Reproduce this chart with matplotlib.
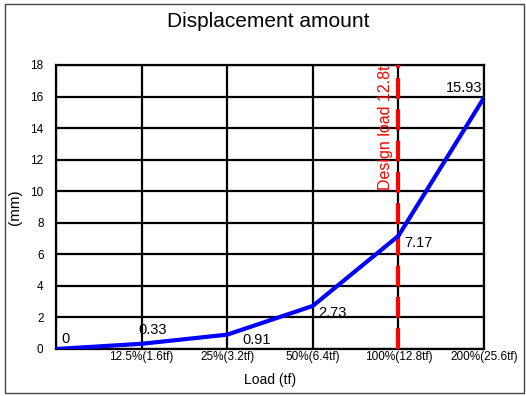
import matplotlib
matplotlib.use("Agg")
import matplotlib.pyplot as plt
from matplotlib.patches import Rectangle

plt.rcParams['font.family'] = ['Liberation Sans', 'DejaVu Sans']

# ------------------ Data
load_labels = ["", "12.5%(1.6tf)", "25%(3.2tf)", "50%(6.4tf)", "100%(12.8tf)", "200%(25.6tf)"]
displacement = [0, 0.33, 0.91, 2.73, 7.17, 15.93]
value_labels = ["0", "0.33", "0.91", "2.73", "7.17", "15.93"]
y_ticks = [0, 2, 4, 6, 8, 10, 12, 14, 16, 18]
design_index = 4
design_text = "Design load 12.8t"

# label offsets in points (dx, dy) and alignment
label_offsets = [(4, 7, "left"), (-2, 10, "left"), (11, -4, "left"), (4, -5, "left"),
                 (4, -5, "left"), (-1, 7, "right")]

fig = plt.figure(figsize=(5.26, 3.96), dpi=100)
ax = fig.add_axes([0.1065, 0.1187, 0.8137, 0.7172])

x = list(range(len(displacement)))

# ------------------ Grid
for yv in y_ticks:
    ax.axhline(yv, color="black", linewidth=1.6, zorder=1)
for xv in x:
    ax.axvline(xv, color="black", linewidth=1.6, zorder=1)

ax.plot(x, displacement, color="#0000ff", linewidth=3, zorder=4, solid_capstyle="round")

# design load line
ax.axvline(design_index, color="red", linewidth=3, linestyle=(0, (5, 2.5)), zorder=3)
ax.text(design_index - 0.15, 17.95, design_text, rotation=90, color="red",
        ha="center", va="top", fontsize=11.5, zorder=5)

for xi, yi, txt, (dx, dy, ha) in zip(x, displacement, value_labels, label_offsets):
    ax.annotate(txt, (xi, yi), xytext=(dx, dy), textcoords="offset points",
                ha=ha, va="center", fontsize=10.5, zorder=5)

ax.set_xlim(0, len(x) - 1)
ax.set_ylim(0, 18)
ax.set_xticks(x)
ax.set_xticklabels(load_labels, fontsize=8.5)
ax.set_yticks(y_ticks)
ax.tick_params(axis="y", labelsize=8.5, length=0, pad=9)
ax.tick_params(axis="x", length=0, pad=1.5)
for s in ax.spines.values():
    s.set_linewidth(1.6)

ax.set_xlabel("Load (tf)", fontsize=10, labelpad=7)
ax.set_ylabel("(mm)", fontsize=11, labelpad=6)
fig.text(0.51, 0.945, "Displacement amount", ha="center", va="center", fontsize=15)

fig.patches.append(Rectangle((5 / 526, 3 / 396), 519 / 526, 389 / 396, transform=fig.transFigure,
                             fill=False, edgecolor="#444444", linewidth=1))

fig.savefig("out.png", dpi=100)
